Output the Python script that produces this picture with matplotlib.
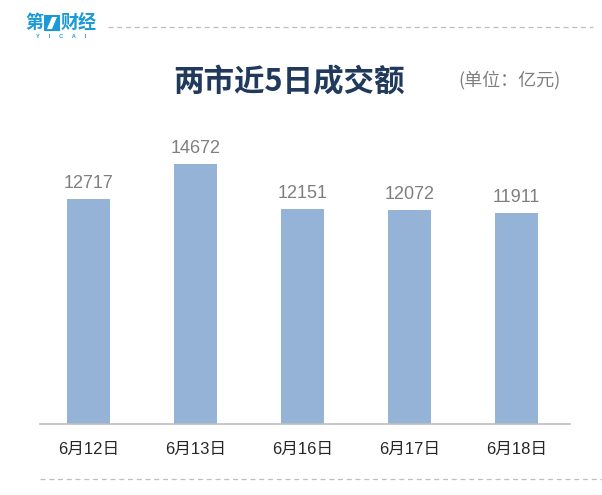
import matplotlib
matplotlib.use("Agg")
import matplotlib.pyplot as plt
from matplotlib.patches import Rectangle, Polygon
from matplotlib.lines import Line2D

plt.rcParams['font.family'] = ['Liberation Sans', 'Noto Sans CJK SC', 'DejaVu Sans']

categories = ["6月12日", "6月13日", "6月16日", "6月17日", "6月18日"]
values = [12717, 14672, 12151, 12072, 11911]
title = "两市近5日成交额"
unit = "(单位：亿元)"

W, H = 602, 495
fig = plt.figure(figsize=(W / 100, H / 100), dpi=100)
fig.patch.set_facecolor("white")

ax = fig.add_axes([40 / W, 1 - 424 / H, 530 / W, 283 / H])
x = list(range(len(categories)))
bars = ax.bar(x, values, width=0.40, color="#95b3d7")
ax.set_xlim(-0.453, 4.5)
ax.set_ylim(0, 16000)
for b, v in zip(bars, values):
    ax.text(b.get_x() + b.get_width() / 2, v + 420, str(v), ha="center", va="bottom",
            fontsize=13, color="#7f7f7f", family=["Liberation Sans"])
ax.set_xticks(x)
ax.set_xticklabels(categories, fontsize=12, color="#262626",
                   family=["Liberation Sans", "Noto Sans CJK SC"])
ax.tick_params(axis="x", length=0, pad=13)
ax.set_yticks([])
for s in ["top", "right", "left"]:
    ax.spines[s].set_visible(False)
ax.spines["bottom"].set_color("#bfbfbf")
ax.spines["bottom"].set_linewidth(1.2)

# Title and unit
fig.text(289 / W, 1 - 82 / H, title, ha="center", va="center", fontsize=22,
         fontweight="bold", color="#213a5c", family=["Noto Sans CJK SC"])
fig.text(509 / W, 1 - 80 / H, unit, ha="center", va="center", fontsize=13,
         color="#7f7f7f", family=["Noto Sans CJK SC"])

# Logo
blue = "#1a9ad6"
fig.text(34 / W, 1 - 23 / H, "第", ha="center", va="center", fontsize=13,
         fontweight="bold", color=blue, family=["Noto Sans CJK SC"])
fig.patches.append(Rectangle((44 / W, 1 - 31 / H), 16 / W, 16 / H,
                             transform=fig.transFigure, facecolor=blue, edgecolor="none"))
fig.patches.append(Polygon([(47 / W, 1 - 29 / H), (52 / W, 1 - 29 / H),
                            (57 / W, 1 - 17 / H), (52 / W, 1 - 17 / H)],
                           closed=True, transform=fig.transFigure,
                           facecolor="white", edgecolor="none"))
fig.text(79 / W, 1 - 23 / H, "财经", ha="center", va="center", fontsize=13,
         fontweight="bold", color=blue, family=["Noto Sans CJK SC"])
fig.text(61 / W, 1 - 37 / H, "Y      I      C      A      I", ha="center", va="center",
         fontsize=4, color=blue, fontweight="bold")

# Dashed lines
fig.lines.append(Line2D([108 / W, 593 / W], [1 - 27 / H, 1 - 27 / H],
                        transform=fig.transFigure, color="#bfbfbf",
                        linestyle=(0, (4, 3)), linewidth=0.9))
fig.lines.append(Line2D([40 / W, 602 / W], [1 - 479 / H, 1 - 479 / H],
                        transform=fig.transFigure, color="#bfbfbf",
                        linestyle=(0, (4, 3)), linewidth=0.9))

fig.savefig("out.png", dpi=100, facecolor="white")
